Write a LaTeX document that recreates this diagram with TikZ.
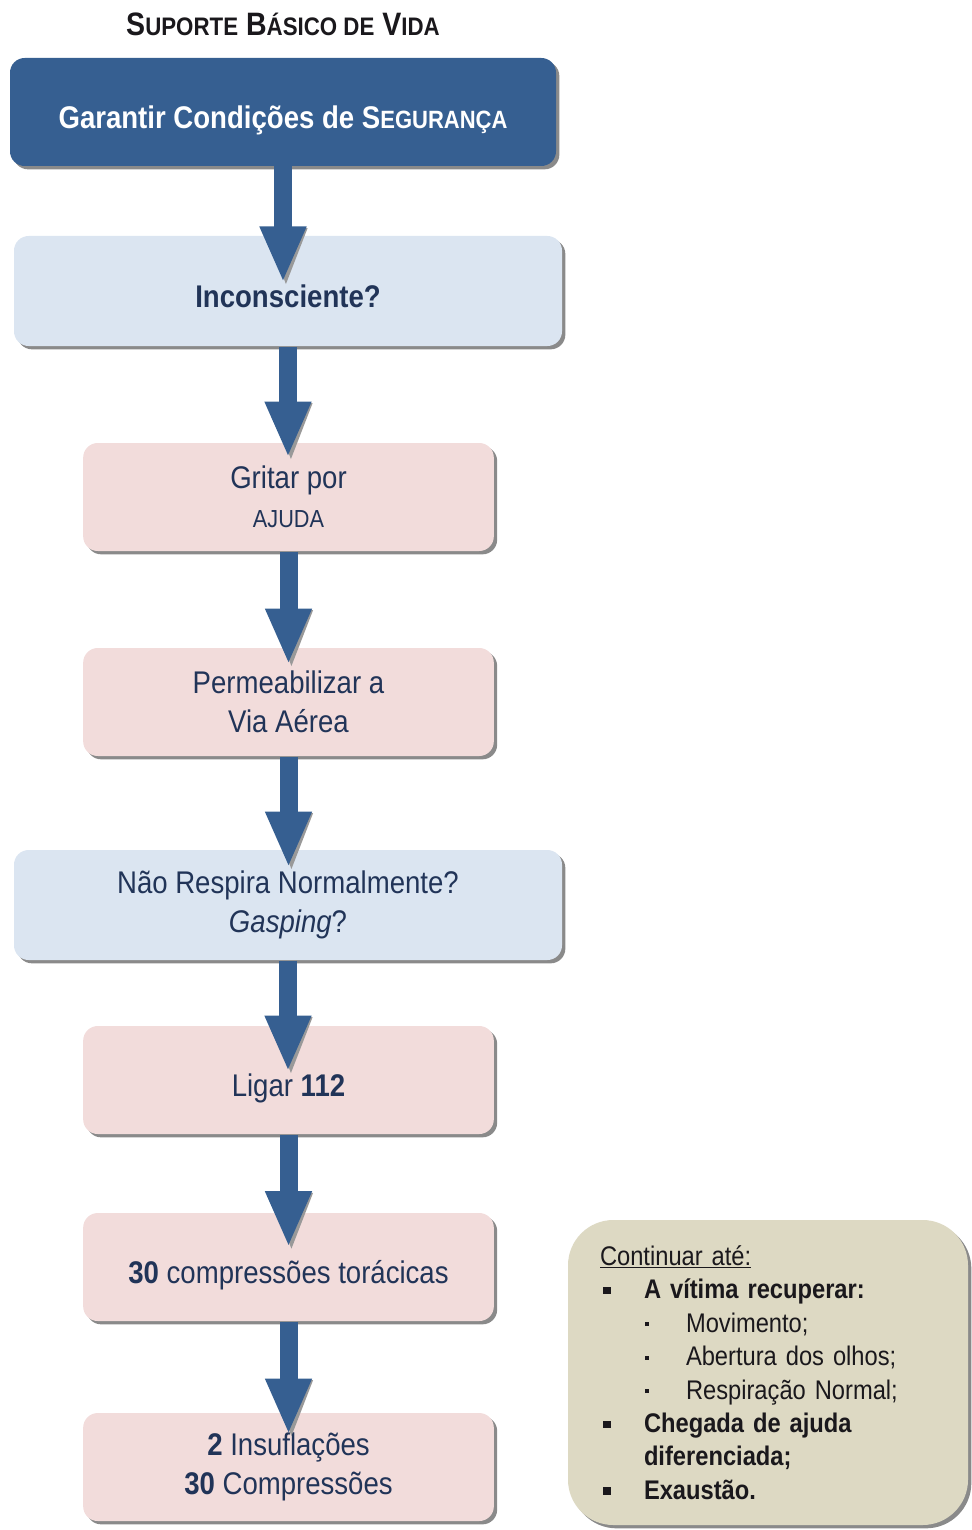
\documentclass[tikz,border=0pt]{standalone}
\usepackage{fontspec}
\setmainfont[FakeStretch=0.88]{Liberation Sans}
\usetikzlibrary{arrows.meta,shadows}

\definecolor{sbvblue}{RGB}{54,95,145}
\definecolor{askblue}{RGB}{219,229,241}
\definecolor{actpink}{RGB}{242,220,219}
\definecolor{notetan}{RGB}{221,217,195}
\definecolor{boxtext}{RGB}{33,52,88}
\definecolor{notetext}{RGB}{26,24,28}

\newcommand{\lowcaps}[2]{{\fontsize{#1}{#1}\selectfont #2}}
\newcommand{\bigbul}{\makebox[33pt][l]{\hspace{2.5pt}\rule[3.5pt]{5.5pt}{5.5pt}}}
\newcommand{\smlbul}{\makebox[64.5pt][l]{\hspace{34pt}\rule[4.5pt]{3pt}{3pt}}}

\tikzset{every picture/.style={line width=0.75pt}}
\tikzset{
  flowbox/.style={rounded corners=11pt, align=center, inner sep=2pt, text=boxtext,
    font=\fontsize{23.5}{29}\selectfont, minimum height=81pt,
    drop shadow={shadow xshift=2.5pt, shadow yshift=-2.5pt, fill=black!65, opacity=0.7}},
  widebox/.style={flowbox, fill=askblue, minimum width=411pt, minimum height=82.5pt},
  narrowbox/.style={flowbox, fill=actpink, minimum width=308pt},
  oneline/.style={text height=25pt, text depth=0pt},
  flowarrow/.style={draw=sbvblue, line width=13.5pt, -{Triangle[width=32pt,length=42pt,fill=sbvblue]}},
  arrowshade/.style={draw=black!40, line width=2pt, -{Triangle[width=32pt,length=42pt,fill=black!40]},
    transform canvas={xshift=2.2pt, yshift=-1.2pt}},
}

\begin{document}
\begin{tikzpicture}[x=0.75pt,y=0.75pt,yscale=-1,xscale=1]
\useasboundingbox (0,0) rectangle (971,1530);

% Title
\node[font=\fontsize{24.3}{26}\selectfont\bfseries, text=notetext] (title) at (283,24)
  {S\lowcaps{19}{UPORTE} B\lowcaps{19}{ÁSICO DE} V\lowcaps{19}{IDA}};

% Boxes
\node[flowbox, oneline, fill=sbvblue, text=white, font=\fontsize{23.5}{29}\selectfont\bfseries,
  minimum width=409.5pt] (safety) at (283,112)
  {Garantir Condições de S\lowcaps{18.75}{EGURANÇA}};
\node[widebox, oneline, font=\fontsize{23.5}{29}\selectfont\bfseries] (unconscious) at (288,291) {Inconsciente?};
\node[narrowbox] (help) at (288.5,497) {Gritar por\\\lowcaps{18.5}{AJUDA}};
\node[narrowbox] (airway) at (288.5,702) {Permeabilizar a\\Via Aérea};
\node[widebox] (breathing) at (288,905) {Não Respira Normalmente?\\\textit{Gasping}?};
\node[narrowbox, oneline] (call) at (288.5,1080) {Ligar \textbf{112}};
\node[narrowbox, oneline] (compress) at (288.5,1267) {\textbf{30} compressões torácicas};
\node[narrowbox] (breaths) at (288.5,1467) {\textbf{2} Insuflações\\\textbf{30} Compressões};

% Note
\node[fill=notetan, rounded corners=34pt, minimum width=300pt, minimum height=228.75pt,
  text width=252pt, inner xsep=24pt, align=left, text=notetext,
  font=\fontsize{20.2}{25.1}\selectfont,
  drop shadow={shadow xshift=2.5pt, shadow yshift=-2.5pt, fill=black!65, opacity=0.7}] (until) at (768,1372.5)
  {\underline{Continuar até:}\\
   \bigbul\textbf{A vítima recuperar:}\\
   \smlbul Movimento;\\
   \smlbul Abertura dos olhos;\\
   \smlbul Respiração Normal;\\
   \bigbul\textbf{Chegada de ajuda}\\
   \hspace*{33pt}\textbf{diferenciada;}\\
   \bigbul\textbf{Exaustão.}};

% Arrows
\draw[arrowshade, shorten >=-35.25pt] (safety.south) -- (safety.south |- unconscious.north);
\draw[flowarrow, shorten >=-35.25pt] (safety.south) -- (safety.south |- unconscious.north);
\draw[arrowshade, shorten >=-11.25pt] (unconscious.south) -- (unconscious.south |- help.north);
\draw[flowarrow, shorten >=-11.25pt] (unconscious.south) -- (unconscious.south |- help.north);
\draw[arrowshade, shorten >=-12.75pt] (help.south) -- (airway.north);
\draw[flowarrow, shorten >=-12.75pt] (help.south) -- (airway.north);
\draw[arrowshade, shorten >=-13.5pt] (airway.south) -- (airway.south |- breathing.north);
\draw[flowarrow, shorten >=-13.5pt] (airway.south) -- (airway.south |- breathing.north);
\draw[arrowshade, shorten >=-34.5pt] (breathing.south) -- (breathing.south |- call.north);
\draw[flowarrow, shorten >=-34.5pt] (breathing.south) -- (breathing.south |- call.north);
\draw[arrowshade, shorten >=-26pt] (call.south) -- (compress.north);
\draw[flowarrow, shorten >=-26pt] (call.south) -- (compress.north);
\draw[arrowshade, shorten >=-16.5pt] (compress.south) -- (breaths.north);
\draw[flowarrow, shorten >=-16.5pt] (compress.south) -- (breaths.north);

\end{tikzpicture}
\end{document}
